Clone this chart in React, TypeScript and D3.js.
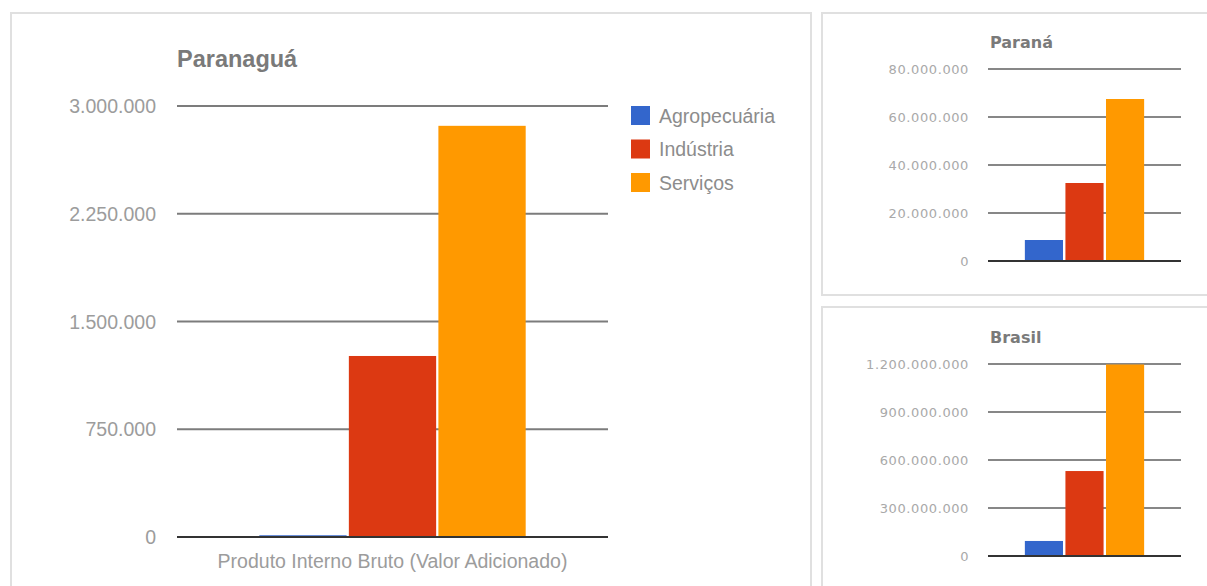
import React from "react";
import * as d3 from "d3";

const seriesNames = ["Agropecuária", "Indústria", "Serviços"];
const seriesColors = ["#3366cc", "#dc3912", "#ff9900"];
const categories = ["Produto Interno Bruto (Valor Adicionado)"];

const paranaguaValues = [12000, 1260000, 2862000];
const paranaValues = [8750000, 32500000, 67500000];
const brasilValues = [94000000, 531000000, 1197000000];

const paranaguaTicks = [0, 750000, 1500000, 2250000, 3000000];
const paranaTicks = [0, 20000000, 40000000, 60000000, 80000000];
const brasilTicks = [0, 300000000, 600000000, 900000000, 1200000000];

const titles = ["Paranaguá", "Paraná", "Brasil"];

const ptBR = d3.formatLocale({ decimal: ",", thousands: ".", grouping: [3], currency: ["R$", ""] });
const fmt = ptBR.format(",d");

type ChartProps = {
  title: string;
  values: number[];
  ticks: number[];
  x0: number; x1: number; yTop: number; yBottom: number;
  small: boolean;
};

function Chart({ title, values, ticks, x0, x1, yTop, yBottom, small }: ChartProps) {
  const y = d3.scaleLinear().domain([0, d3.max(ticks) as number]).range([yBottom, yTop]);
  const xc = d3.scaleBand<string>().domain(categories).range([x0, x1]).paddingInner(0).paddingOuter(0.309);
  const xs = d3.scaleBand<string>().domain(seriesNames).range([0, xc.bandwidth()]).paddingInner(small ? 0.06 : 0.025);
  const font = small ? "DejaVu Sans, Verdana, sans-serif" : "Arial, Liberation Sans, sans-serif";
  const labelSize = small ? 13 : 19.5;
  const gridColor = small ? "#5f5f5f" : "#7c7c7c";
  const gridWidth = small ? 1.5 : 2;
  return (
    <g>
      <text
        x={x0 + (small ? 2 : 0)}
        y={yTop - (small ? 21 : 39)}
        fontFamily={font}
        fontSize={small ? 16 : 23.5}
        fontWeight="bold"
        fill="#7a7a7a"
      >
        {title}
      </text>
      {ticks.map((t) => (
        <g key={t}>
          {t !== 0 && (
            <line x1={x0} x2={x1} y1={y(t)} y2={y(t)} stroke={gridColor} strokeWidth={gridWidth} />
          )}
          <text
            x={small ? x0 - 19 : x0 - 21}
            y={y(t)}
            dominantBaseline="central"
            textAnchor="end"
            fontFamily={font}
            fontSize={labelSize}
            letterSpacing={small ? 0.6 : 0}
            fill={small ? "#a9a9a9" : "#9c9c9c"}
          >
            {fmt(t)}
          </text>
        </g>
      ))}
      {categories.map((c) =>
        values.map((v, i) => (
          <rect
            key={c + i}
            x={(xc(c) as number) + (xs(seriesNames[i]) as number)}
            y={y(v)}
            width={xs.bandwidth()}
            height={y(0) - y(v)}
            fill={seriesColors[i]}
          />
        ))
      )}
      <line x1={x0} x2={x1} y1={y(0)} y2={y(0)} stroke="#333" strokeWidth={2} />
      {!small &&
        categories.map((c) => (
          <text
            key={c}
            x={(xc(c) as number) + xc.bandwidth() / 2}
            y={y(0) + 31}
            textAnchor="middle"
            fontFamily={font}
            fontSize={19.5}
            fill="#9c9c9c"
          >
            {c}
          </text>
        ))}
      {!small &&
        seriesNames.map((s, i) => (
          <g key={s}>
            <rect x={631} y={106 + i * 33.5} width={19} height={19} fill={seriesColors[i]} />
            <text
              x={659}
              y={106 + i * 33.5 + 9.5}
              dominantBaseline="central"
              fontFamily={font}
              fontSize={19.5}
              fill="#8c8c8c"
            >
              {s}
            </text>
          </g>
        ))}
    </g>
  );
}

export default function App() {
  return (
    <svg
      width={1207}
      height={586}
      style={{ position: "absolute", left: 0, top: 0, background: "#fff" }}
    >
      <rect x={0} y={0} width={1207} height={586} fill="#fff" />
      <rect x={11} y={13} width={800} height={600} fill="#fff" stroke="#e0e0e0" strokeWidth={2} />
      <rect x={822} y={13} width={400} height={282} fill="#fff" stroke="#e0e0e0" strokeWidth={2} />
      <rect x={822} y={307} width={400} height={300} fill="#fff" stroke="#e0e0e0" strokeWidth={2} />
      <Chart title={titles[0]} values={paranaguaValues} ticks={paranaguaTicks} x0={177} x1={608} yTop={106} yBottom={537} small={false} />
      <Chart title={titles[1]} values={paranaValues} ticks={paranaTicks} x0={988} x1={1181} yTop={69} yBottom={261} small={true} />
      <Chart title={titles[2]} values={brasilValues} ticks={brasilTicks} x0={988} x1={1181} yTop={364} yBottom={556} small={true} />
    </svg>
  );
}
